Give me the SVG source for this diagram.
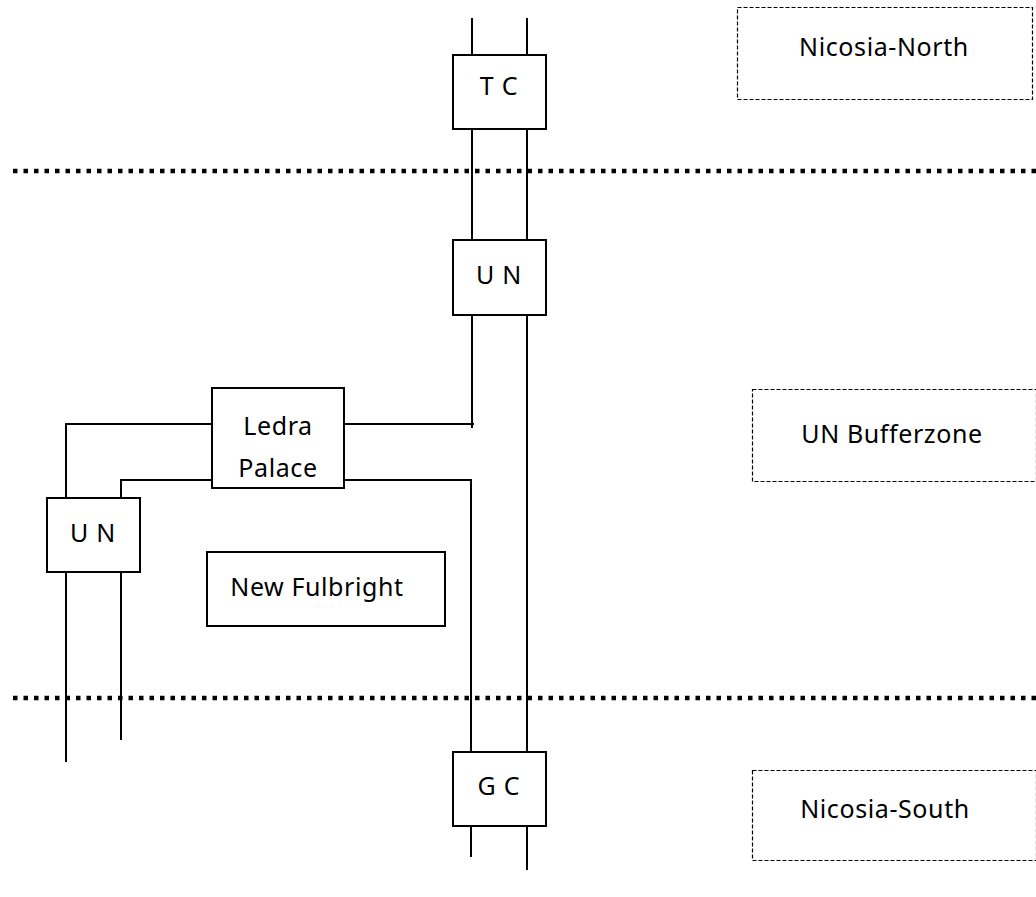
<svg xmlns="http://www.w3.org/2000/svg" width="1036" height="897" viewBox="0 0 1036 897">
<style>
.box{fill:#fff;stroke:#000;stroke-width:2}
.zone{fill:none;stroke:#000;stroke-width:1.2;stroke-dasharray:4 2}
.ln{fill:none;stroke:#000;stroke-width:2}
.sep{fill:none;stroke:#000;stroke-width:4.5;stroke-dasharray:4.5 6}
text{font-family:"Noto Sans","Open Sans",sans-serif;font-size:25px;letter-spacing:0.6px;fill:#000;text-anchor:middle;dominant-baseline:central}
.sp{letter-spacing:0.8px}
</style>
<rect width="1036" height="897" fill="#fff"/>
<g id="connectors">
<line class="sep" x1="13" y1="171" x2="1036" y2="171"/>
<line class="sep" x1="13" y1="698" x2="1036" y2="698"/>
<line class="ln" x1="472" y1="18" x2="472" y2="55"/>
<line class="ln" x1="527" y1="18" x2="527" y2="55"/>
<line class="ln" x1="472" y1="129" x2="472" y2="240"/>
<line class="ln" x1="527" y1="129" x2="527" y2="240"/>
<line class="ln" x1="472" y1="315" x2="472" y2="428"/>
<line class="ln" x1="527" y1="315" x2="527" y2="752"/>
<line class="ln" x1="344" y1="424" x2="474" y2="424"/>
<polyline class="ln" points="344,480 471,480 471,752"/>
<line class="ln" x1="471" y1="826" x2="471" y2="857"/>
<line class="ln" x1="527" y1="826" x2="527" y2="870"/>
<polyline class="ln" points="212,424 66,424 66,498"/>
<polyline class="ln" points="212,480 121,480 121,498"/>
<line class="ln" x1="66" y1="572" x2="66" y2="762"/>
<line class="ln" x1="121" y1="572" x2="121" y2="740"/>
</g>
<g id="tc"><rect class="box" x="453" y="55" width="93" height="74"/><text class="sp" x="499" y="85">T C</text></g>
<g id="un-top"><rect class="box" x="453" y="240" width="93" height="75"/><text class="sp" x="499" y="274">U N</text></g>
<g id="ledra"><rect class="box" x="212" y="388" width="132" height="100"/><text x="278" y="425">Ledra</text><text x="278" y="467">Palace</text></g>
<g id="un-left"><rect class="box" x="47" y="498" width="93" height="74"/><text class="sp" x="93" y="532">U N</text></g>
<g id="fulbright"><rect class="box" x="207" y="552" width="238" height="74"/><text x="317" y="586">New Fulbright</text></g>
<g id="gc"><rect class="box" x="453" y="752" width="93" height="74"/><text class="sp" x="499" y="785">G C</text></g>
<g id="north"><rect class="zone" x="737.5" y="7.5" width="295" height="92"/><text x="884" y="46">Nicosia-North</text></g>
<g id="buffer"><rect class="zone" x="752.5" y="389.5" width="284" height="92"/><text x="892" y="433">UN Bufferzone</text></g>
<g id="south"><rect class="zone" x="752.5" y="770.5" width="284" height="90"/><text x="885" y="808">Nicosia-South</text></g>
</svg>
